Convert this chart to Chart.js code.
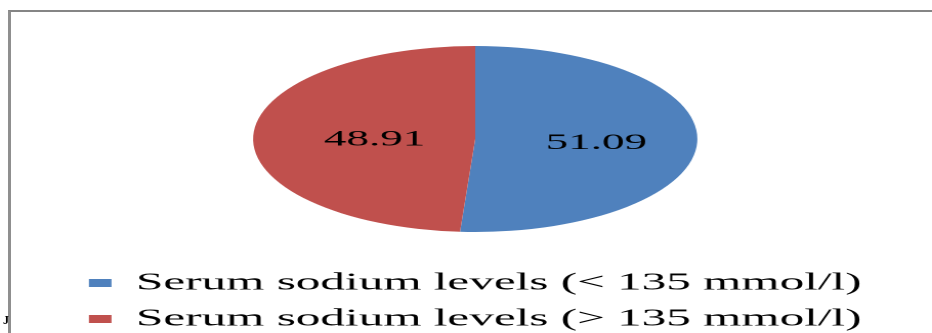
<!DOCTYPE html>
<html>
<head>
<meta charset="utf-8">
<script src="https://cdn.jsdelivr.net/npm/chart.js@4.4.1/dist/chart.umd.min.js"></script>
<style>
  html, body { margin: 0; padding: 0; background: #fff; }
  #wrap { position: relative; width: 932px; height: 333px; overflow: hidden; background: #fff; }
  #frame { position: absolute; left: 8px; top: 10px; width: 940px; height: 340px;
           border-top: 2px solid #858585; border-left: 3px solid #8f8f8f; box-sizing: border-box; }
  #c { position: absolute; left: 0; top: 0; width: 932px; height: 333px; }
  #mark { position: absolute; left: 3px; top: 313px; font: bold 12px 'Liberation Serif', serif; color: #000; }
</style>
</head>
<body>
<div id="wrap">
  <div id="frame"></div>
  <canvas id="c" width="455" height="333" style="width:932px;height:333px;"></canvas>
  <div id="mark">J</div>
</div>
<script>
const categories = ['Serum sodium levels (< 135 mmol/l)', 'Serum sodium levels (> 135 mmol/l)'];
const values = [51.09, 48.91];
const valueLabels = ['51.09', '48.91'];
const colors = ['#4F81BD', '#C0504D'];
const STRETCH = 1.166;
const SERIF = "'Liberation Serif', serif";

const ellipsePlugin = {
  id: 'ellipse',
  beforeDatasetsDraw(chart) {
    const meta = chart.getDatasetMeta(0);
    const cx = meta.data[0].x;
    const ctx = chart.ctx;
    ctx.save();
    ctx.translate(cx, 0);
    ctx.scale(STRETCH, 1);
    ctx.translate(-cx, 0);
  },
  afterDatasetsDraw(chart) {
    const ctx = chart.ctx;
    ctx.restore();
    const meta = chart.getDatasetMeta(0);
    ctx.save();
    ctx.font = '22px ' + SERIF;
    ctx.fillStyle = '#000';
    ctx.textAlign = 'center';
    ctx.textBaseline = 'middle';
    meta.data.forEach((arc, i) => {
      const p = arc.tooltipPosition();
      const x = arc.x + (p.x - arc.x) * STRETCH + 5;
      ctx.fillText(valueLabels[i], x, p.y + 2.5);
    });
    ctx.restore();
  }
};

new Chart(document.getElementById('c'), {
  type: 'pie',
  data: {
    labels: categories,
    datasets: [{
      data: values,
      backgroundColor: colors,
      borderWidth: 0,
      radius: 93
    }]
  },
  options: {
    responsive: false,
    devicePixelRatio: 2,
    animation: false,
    layout: { padding: { top: 19, bottom: -8, left: 9, right: 0 } },
    plugins: {
      tooltip: { enabled: false },
      legend: {
        position: 'bottom',
        labels: {
          boxWidth: 11,
          boxHeight: 8,
          padding: 12,
          color: '#000',
          font: { family: SERIF, size: 24 }
        }
      }
    }
  },
  plugins: [ellipsePlugin]
});
</script>
</body>
</html>
